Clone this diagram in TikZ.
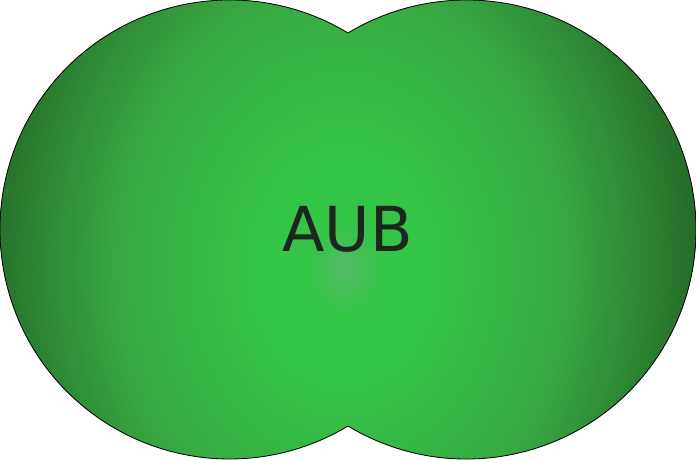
\documentclass[tikz,border=0pt]{standalone}
\usepackage{fontspec}
\newfontfamily\labelfont{DejaVu Sans}
\definecolor{shA}{RGB}{84,186,100}
\definecolor{shB}{RGB}{52,196,70}
\definecolor{shC}{RGB}{56,168,66}
\definecolor{shD}{RGB}{34,98,36}
\definecolor{txt}{RGB}{30,36,30}
\pgfdeclareradialshading{aubshade}{\pgfpoint{0.8bp}{-0.5bp}}{color(0bp)=(shA); color(2.5bp)=(shB); color(6bp)=(shB); color(15bp)=(shC); color(25bp)=(shD); color(50bp)=(shD)}
\tikzset{outline/.style={draw=black,line width=0.8pt}}
\begin{document}
\begin{tikzpicture}[x=1pt,y=1pt]
\useasboundingbox (0,0) rectangle (696,459);
\coordinate (top) at (348,{229.5+229.5*sin(58.91)});
\begin{scope}
\clip (top) arc[start angle=58.91,end angle=301.09,radius=229.5]
      arc[start angle=-121.09,end angle=121.09,radius=229.5] -- cycle;
\fill[shD] (0,0) rectangle (696,459);
\shade[shading=aubshade] (333,200) ellipse [x radius=378,y radius=480];
\end{scope}
\draw[outline] (top) arc[start angle=58.91,end angle=301.09,radius=229.5]
      arc[start angle=-121.09,end angle=121.09,radius=229.5] -- cycle;
\node[text=txt,font=\labelfont\fontsize{62}{62}\selectfont,inner sep=0pt] (lbl) at (347.5,229.5) {AUB};
\end{tikzpicture}
\end{document}
